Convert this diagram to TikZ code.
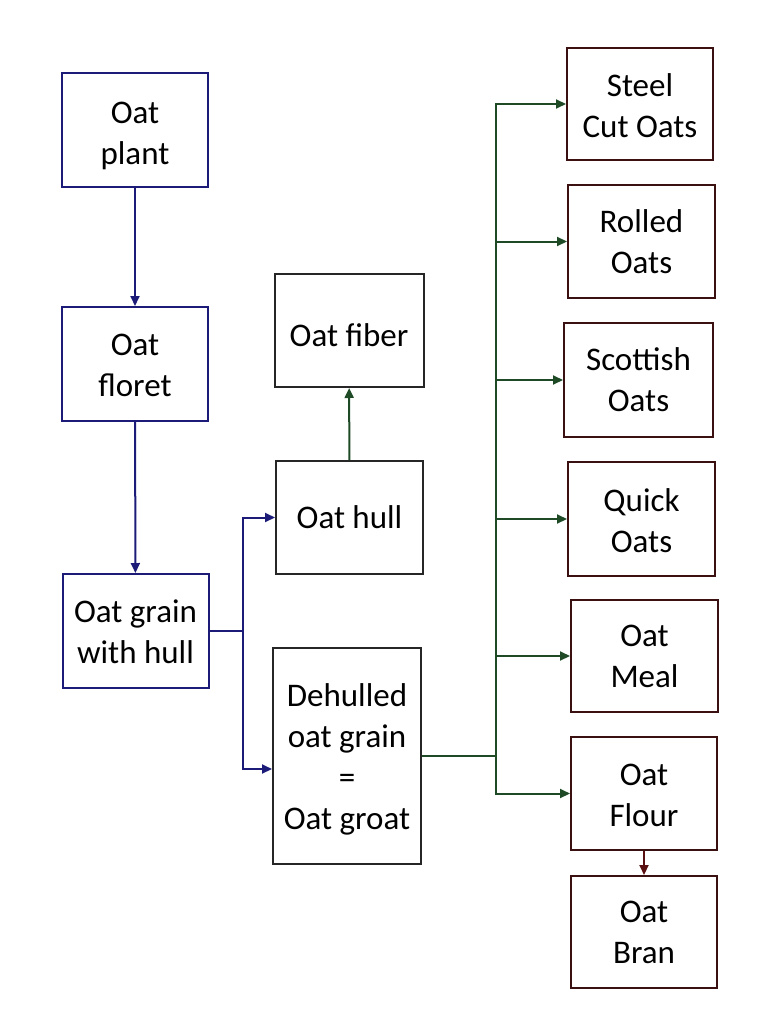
\documentclass[tikz,border=0pt]{standalone}
\usepackage{fontspec}
\setmainfont{Carlito}
\usetikzlibrary{arrows.meta}
\definecolor{navyc}{HTML}{1C1C78}
\definecolor{greenc}{HTML}{1E4A26}
\definecolor{brownc}{HTML}{3A1010}
\definecolor{redc}{HTML}{5A1010}
\begin{document}
\begin{tikzpicture}[x=1pt,y=-1pt,
  box/.style={draw,line width=2pt,inner sep=0pt},
  txt/.style={align=center,inner sep=0pt,font=\fontsize{33}{41}\selectfont,text=black},
  navybox/.style={box,draw=navyc},
  blackbox/.style={box,draw=black!85},
  brownbox/.style={box,draw=brownc},
  conn/.style={line width=2pt,-{Triangle[length=10pt,width=9pt]}},
  nconn/.style={conn,draw=navyc},
  gconn/.style={conn,draw=greenc},
  rconn/.style={conn,draw=redc}]
\fill[white] (0,0) rectangle (780,1032);
\useasboundingbox (0,0) rectangle (780,1032);
% left column
\node[navybox,minimum width=146pt,minimum height=114pt,label={[txt,yshift=-6pt]center:Oat\\plant}] (plant) at (135,130) {};
\node[navybox,minimum width=146pt,minimum height=114pt,label={[txt,yshift=-1pt]center:Oat\\floret}] (floret) at (135,364) {};
\node[navybox,minimum width=146pt,minimum height=114pt,label={[txt,yshift=-1pt]center:Oat grain\\with hull}] (grain) at (135.5,631) {};
% middle column
\node[blackbox,minimum width=149pt,minimum height=113pt,label={[txt,yshift=-5pt]center:Oat fiber}] (fiber) at (349,330.5) {};
\node[blackbox,minimum width=147pt,minimum height=113pt,label={[txt]center:Oat hull}] (hull) at (349.5,517.5) {};
\node[blackbox,minimum width=148pt,minimum height=216pt,label={[txt,yshift=-3pt]center:Dehulled\\oat grain\\=\\Oat groat}] (dehulled) at (347,756) {};
% right column
\node[brownbox,minimum width=146pt,minimum height=112pt,label={[txt,yshift=-2pt]center:Steel\\Cut Oats}] (steel) at (640,104) {};
\node[brownbox,minimum width=147pt,minimum height=113pt,label={[txt]center:Rolled\\Oats}] (rolled) at (641.5,241.5) {};
\node[brownbox,minimum width=149pt,minimum height=114pt,label={[txt]center:Scottish\\Oats}] (scottish) at (638.5,380) {};
\node[brownbox,minimum width=147pt,minimum height=114pt,label={[txt,yshift=-2pt]center:Quick\\Oats}] (quick) at (641.5,519) {};
\node[brownbox,minimum width=147pt,minimum height=112pt,label={[txt]center:Oat\\Meal}] (meal) at (644.5,656) {};
\node[brownbox,minimum width=146pt,minimum height=113pt,label={[txt,yshift=-2pt]center:Oat\\Flour}] (flour) at (644,793.5) {};
\node[brownbox,minimum width=146pt,minimum height=112pt,label={[txt]center:Oat\\Bran}] (bran) at (644,932) {};
% junctions
\coordinate (j1) at (243,631);
\coordinate (j2) at (496,756);
% connectors
\draw[nconn] (plant) -- (floret);
\draw[nconn] (floret) -- (grain);
\draw[navyc,line width=2pt] (grain.east) -- (j1);
\draw[nconn] (j1) |- (hull.west);
\draw[nconn] (j1) |- ([yshift=-13pt]dehulled.west);
\draw[gconn] (hull) -- (fiber);
\draw[greenc,line width=2pt] (dehulled.east) -- (j2);
\draw[gconn] (j2) |- (steel.west);
\draw[gconn] (j2) |- (rolled.west);
\draw[gconn] (j2) |- (scottish.west);
\draw[gconn] (j2) |- (quick.west);
\draw[gconn] (j2) |- (meal.west);
\draw[gconn] (j2) |- (flour.west);
\draw[rconn] (flour) -- (bran);
\end{tikzpicture}
\end{document}
